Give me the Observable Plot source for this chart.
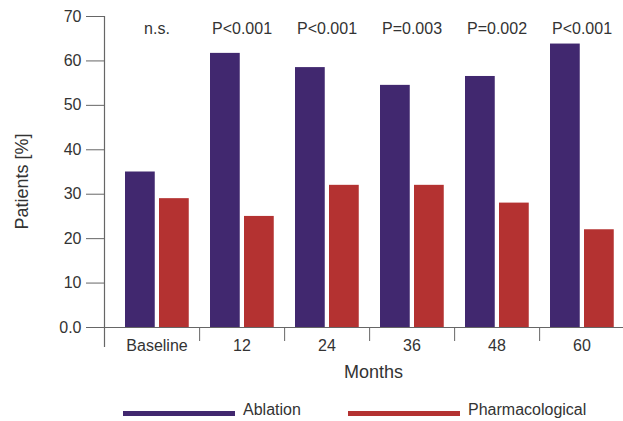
<!DOCTYPE html>
<html>
<head>
<meta charset="utf-8">
<script src="https://cdn.jsdelivr.net/npm/d3@7"></script>
<script src="https://cdn.jsdelivr.net/npm/@observablehq/plot@0.6"></script>
<style>
  body { margin: 0; background: #fff; font-family: "Liberation Sans", Arial, sans-serif; overflow: hidden; }
  #chart { width: 623px; height: 398px; }
  #chart svg { display: block; }
  .legend { position: relative; width: 623px; height: 23px; font-size: 16px; color: #333; }
  .legend .sw { position: absolute; top: 13px; width: 112px; height: 5px; }
  .legend .lb { position: absolute; top: 3px; line-height: 18px; }
</style>
</head>
<body>
<div id="chart"></div>
<script>
const months = ["Baseline", "12", "24", "36", "48", "60"];
const ablation = [35, 61.7, 58.5, 54.5, 56.5, 63.8];
const pharmacological = [29, 25, 32, 32, 28, 22];
const pLabels = ["n.s.", "P<0.001", "P<0.001", "P=0.003", "P=0.002", "P<0.001"];
const seriesNames = ["Ablation", "Pharmacological"];
const colors = ["#41286f", "#b43231"];
const yTicks = [0, 10, 20, 30, 40, 50, 60, 70];

const abl = months.map((m, i) => ({month: m, value: ablation[i]}));
const pha = months.map((m, i) => ({month: m, value: pharmacological[i]}));
const pv = months.map((m, i) => ({month: m, label: pLabels[i]}));

const step = (625 - 113.5) / months.length;

const plot = Plot.plot({
  width: 623,
  height: 398,
  marginLeft: 104,
  marginRight: 0,
  marginTop: 16,
  marginBottom: 52,
  style: {fontFamily: "'Liberation Sans', Arial, sans-serif", fontSize: "16px", color: "#333", background: "#fff"},
  x: {domain: months, range: [113.5, 625], padding: 0},
  y: {domain: [0, 70], range: [327, 16]},
  marks: [
    Plot.barY(abl, {x: "month", y: "value", fill: colors[0], insetLeft: 11, insetRight: step - 41}),
    Plot.barY(pha, {x: "month", y: "value", fill: colors[1], insetLeft: 45, insetRight: step - 75}),
    Plot.ruleY([0], {stroke: "#666", strokeWidth: 1.2}),
    Plot.frame({anchor: "left", stroke: "#666", strokeWidth: 1.2}),
    Plot.axisY({ticks: yTicks, tickSize: 18, tickPadding: 5, stroke: "#666", fill: "#333", fontSize: 16,
      tickFormat: d => d === 0 ? "0.0" : String(d), label: null}),
    Plot.axisX({anchor: "bottom", tickSize: 14, dx: step / 2, dy: -19, tickFormat: () => "", stroke: "#666", label: null}),
    Plot.text(months, {x: d => d, frameAnchor: "bottom", dy: -1, lineAnchor: "middle", fontSize: 16, fill: "#333"}),
    Plot.text(pv, {x: "month", text: "label", frameAnchor: "top", dy: 12, lineAnchor: "middle", fontSize: 16, fill: "#333"}),
    Plot.text(["Patients [%]"], {frameAnchor: "left", dx: -82, rotate: -90, textAnchor: "middle", fontSize: 18, fill: "#333", lineAnchor: "middle"}),
    Plot.text(["Months"], {frameAnchor: "bottom", dx: 9.5, dy: 26, fontSize: 18, fill: "#333", lineAnchor: "middle"})
  ]
});
document.getElementById("chart").appendChild(plot);

const legend = document.createElement("div");
legend.className = "legend";
const lx = [123, 348];
seriesNames.forEach((name, i) => {
  const sw = document.createElement("div");
  sw.className = "sw";
  sw.style.left = lx[i] + "px";
  sw.style.background = colors[i];
  legend.appendChild(sw);
  const lb = document.createElement("div");
  lb.className = "lb";
  lb.style.left = (lx[i] + 120) + "px";
  lb.textContent = name;
  legend.appendChild(lb);
});
document.body.appendChild(legend);
</script>
</body>
</html>
